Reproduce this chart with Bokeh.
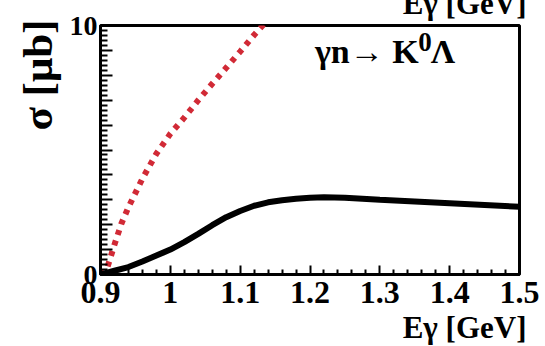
from bokeh.plotting import figure
from bokeh.models import Range1d, FixedTicker, CustomJSTickFormatter, Label, Title
from bokeh.embed import file_html
from bokeh.resources import INLINE

# --- data ---
black_E = [0.9, 0.92, 0.94, 0.96, 0.98, 1.0, 1.02, 1.04, 1.06, 1.08, 1.10, 1.12,
           1.14, 1.16, 1.18, 1.20, 1.22, 1.25, 1.30, 1.35, 1.40, 1.45, 1.50]
black_sigma = [0, 0.15, 0.3, 0.52, 0.76, 1.0, 1.3, 1.63, 1.98, 2.3, 2.55, 2.76,
               2.9, 2.98, 3.04, 3.08, 3.1, 3.08, 3.0, 2.93, 2.86, 2.79, 2.72]

red_E = [0.9, 0.905, 0.91, 0.92, 0.93, 0.94, 0.96, 0.98, 1.00, 1.02, 1.04, 1.06,
         1.08, 1.10, 1.12, 1.14]
red_sigma = [0, 0.15, 0.3, 1.2, 2.05, 2.7, 3.85, 4.85, 5.65, 6.3, 7.0, 7.66,
             8.3, 8.95, 9.62, 10.25]

x_major = [0.9, 1.0, 1.1, 1.2, 1.3, 1.4, 1.5]
x_minor = [0.92, 0.94, 0.96, 0.98, 1.02, 1.04, 1.06, 1.08, 1.12, 1.14, 1.16, 1.18,
           1.22, 1.24, 1.26, 1.28, 1.32, 1.34, 1.36, 1.38, 1.42, 1.44, 1.46, 1.48]
y_major = [0, 1, 2, 3, 4, 5, 6, 7, 8, 9, 10]
y_labeled = [0, 10]

SERIF = "'Liberation Serif', serif"
HIDDEN_TOP = 22

p = figure(width=545, height=346 + HIDDEN_TOP, output_backend="svg", toolbar_location=None,
           x_range=Range1d(0.9, 1.5), y_range=Range1d(0, 10),
           min_border_left=100, min_border_right=26, min_border_top=25 + HIDDEN_TOP,
           min_border_bottom=72)
p.styles = {"margin-top": f"-{HIDDEN_TOP}px"}
p.grid.visible = False
p.background_fill_color = "white"
p.border_fill_color = "white"
p.outline_line_color = "black"
p.outline_line_width = 3

# x axis
xa = p.xaxis[0]
xa.ticker = FixedTicker(ticks=x_major, minor_ticks=x_minor)
xa.formatter = CustomJSTickFormatter(code="return String(Math.round(tick*10)/10);")
xa.major_tick_in = 9
xa.major_tick_out = 0
xa.minor_tick_in = 5
xa.minor_tick_out = 0
xa.major_tick_line_width = 2
xa.minor_tick_line_width = 2
xa.axis_line_width = 3
xa.major_label_text_font = SERIF
xa.major_label_text_font_style = "bold"
xa.major_label_text_font_size = "32px"
xa.major_label_text_color = "black"
xa.major_label_standoff = 7

# y axis
ya = p.yaxis[0]
y_minor = [i * 0.2 for i in range(51) if i % 5 != 0]
ya.ticker = FixedTicker(ticks=y_major, minor_ticks=y_minor)
ya.formatter = CustomJSTickFormatter(
    args=dict(show=y_labeled),
    code="return show.indexOf(Math.round(tick)) >= 0 && Math.abs(tick-Math.round(tick))<1e-6 ? String(Math.round(tick)) : '';")
ya.major_tick_in = 12
ya.major_tick_out = 0
ya.minor_tick_in = 7
ya.minor_tick_out = 0
ya.major_tick_line_width = 2
ya.minor_tick_line_width = 2
ya.axis_line_width = 3
ya.major_label_text_font = SERIF
ya.major_label_text_font_style = "bold"
ya.major_label_text_font_size = "28px"
ya.major_label_text_color = "black"
ya.major_label_standoff = 3

# curves
p.line(red_E, red_sigma, line_color="#d12a36", line_width=6, line_dash="5 6")
p.line(black_E, black_sigma, line_color="black", line_width=6)

# axis titles
p.add_layout(Title(text="σ [μb]", align="right", offset=-6, standoff=12,
                   text_font=SERIF, text_font_style="bold",
                   text_font_size="43px", text_color="black"), "left")
p.add_layout(Title(text="Eγ [GeV]", align="right", offset=-7, standoff=4,
                   text_font=SERIF, text_font_style="bold",
                   text_font_size="31px", text_color="black"), "below")
p.add_layout(Title(text="Eγ [GeV]", align="right", offset=-7, standoff=9,
                   vertical_align="bottom",
                   text_font=SERIF, text_font_style="bold",
                   text_font_size="31px", text_color="black"), "above")

# reaction text
p.add_layout(Label(x=1.3556, y=8.95, text="γn→ K",
                   text_align="right", text_baseline="alphabetic",
                   text_font=SERIF, text_font_style="bold",
                   text_font_size="34px", text_color="black"))
p.add_layout(Label(x=1.355, y=9.35, text="0",
                   text_align="left", text_baseline="alphabetic",
                   text_font=SERIF, text_font_style="bold",
                   text_font_size="27px", text_color="black"))
p.add_layout(Label(x=1.3728, y=8.95, text="Λ",
                   text_align="left", text_baseline="alphabetic",
                   text_font=SERIF, text_font_style="bold",
                   text_font_size="34px", text_color="black"))

open("out.html", "w").write(file_html(p, INLINE))
